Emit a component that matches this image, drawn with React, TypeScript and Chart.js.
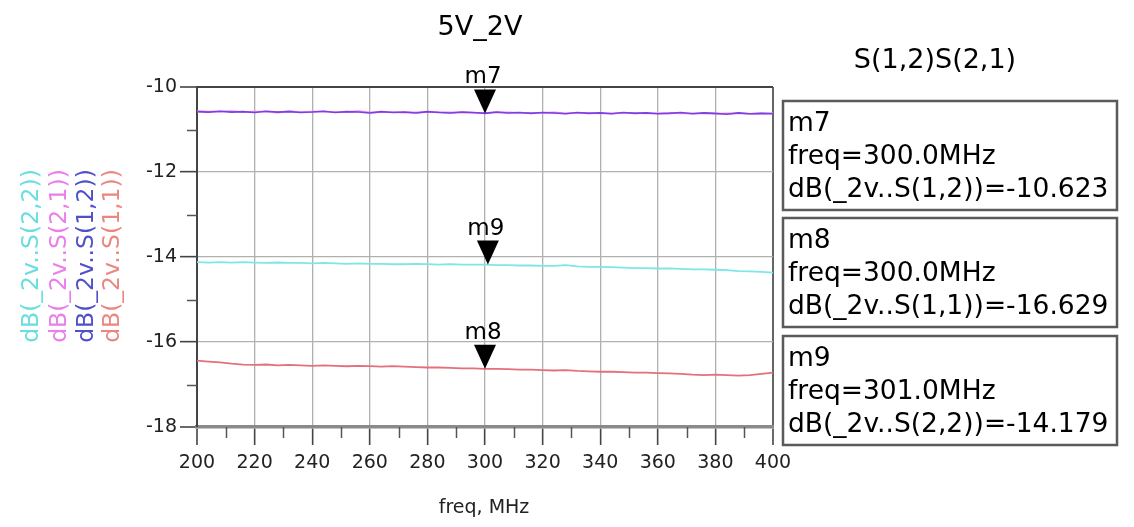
import React, { useEffect, useRef } from "react";
import { Chart, registerables } from "chart.js";
Chart.register(...registerables);

const FONT = "'DejaVu Sans', 'Liberation Sans', sans-serif";

const freqs = [
  200, 204, 208, 212, 216, 220, 224, 228, 232, 236,
  240, 244, 248, 252, 256, 260, 264, 268, 272, 276,
  280, 284, 288, 292, 296, 300, 304, 308, 312, 316,
  320, 324, 328, 332, 336, 340, 344, 348, 352, 356,
  360, 364, 368, 372, 376, 380, 384, 388, 392, 396, 400,
];

const s12 = [
  -10.58, -10.59, -10.57, -10.59, -10.58, -10.6, -10.57, -10.59, -10.58, -10.6,
  -10.59, -10.57, -10.6, -10.58, -10.59, -10.61, -10.58, -10.6, -10.59, -10.61,
  -10.58, -10.6, -10.61, -10.59, -10.6, -10.62, -10.59, -10.61, -10.6, -10.62,
  -10.6, -10.61, -10.63, -10.6, -10.62, -10.61, -10.63, -10.6, -10.62, -10.61,
  -10.63, -10.62, -10.6, -10.63, -10.61, -10.62, -10.64, -10.61, -10.63, -10.62, -10.63,
];

const s21 = [
  -10.57, -10.58, -10.58, -10.57, -10.59, -10.58, -10.58, -10.6, -10.57, -10.59,
  -10.58, -10.58, -10.59, -10.59, -10.57, -10.6, -10.59, -10.59, -10.6, -10.6,
  -10.59, -10.59, -10.6, -10.6, -10.61, -10.61, -10.6, -10.6, -10.61, -10.61,
  -10.61, -10.6, -10.62, -10.61, -10.61, -10.62, -10.62, -10.61, -10.61, -10.62,
  -10.62, -10.61, -10.62, -10.62, -10.62, -10.63, -10.62, -10.62, -10.63, -10.62, -10.62,
];

const s22 = [
  -14.12, -14.13, -14.12, -14.13, -14.12, -14.13, -14.14, -14.13, -14.14, -14.14,
  -14.15, -14.14, -14.15, -14.16, -14.15, -14.16, -14.16, -14.17, -14.17, -14.16,
  -14.17, -14.18, -14.17, -14.18, -14.18, -14.18, -14.19, -14.19, -14.2, -14.2,
  -14.21, -14.21, -14.19, -14.22, -14.23, -14.23, -14.24, -14.25, -14.26, -14.26,
  -14.27, -14.27, -14.28, -14.29, -14.29, -14.3, -14.31, -14.33, -14.34, -14.35, -14.37,
];

const s11 = [
  -16.44, -16.46, -16.48, -16.51, -16.53, -16.54, -16.53, -16.55, -16.54, -16.55,
  -16.56, -16.55, -16.56, -16.57, -16.56, -16.57, -16.58, -16.57, -16.58, -16.59,
  -16.6, -16.6, -16.61, -16.62, -16.62, -16.63, -16.63, -16.64, -16.65, -16.65,
  -16.66, -16.67, -16.66, -16.68, -16.69, -16.7, -16.7, -16.71, -16.72, -16.72,
  -16.73, -16.74, -16.75, -16.77, -16.78, -16.77, -16.78, -16.79, -16.78, -16.75, -16.72,
];

const xTicks = [200, 220, 240, 260, 280, 300, 320, 340, 360, 380, 400];
const yTicks = [-18, -16, -14, -12, -10];

const legendLabels = ["dB(_2v..S(2,2))", "dB(_2v..S(2,1))", "dB(_2v..S(1,2))", "dB(_2v..S(1,1))"];
const legendColors = ["#6adede", "#ea7eea", "#5050c8", "#ea8880"];

const markerNames = ["m7", "m8", "m9"];
const markerFreqs = [300, 300, 301];
const markerValues = [-10.623, -16.629, -14.179];
const markerTraces = ["dB(_2v..S(1,2))", "dB(_2v..S(1,1))", "dB(_2v..S(2,2))"];

const title = "5V_2V";
const sideTitle = "S(1,2)S(2,1)";
const xTitle = "freq, MHz";

function pts(vals: number[]) {
  return freqs.map((f, i) => ({ x: f, y: vals[i] }));
}

function text(
  ctx: CanvasRenderingContext2D,
  s: string,
  x: number,
  y: number,
  size: number,
  color: string,
  align: CanvasTextAlign = "center",
  baseline: CanvasTextBaseline = "middle"
) {
  ctx.font = `${size}px ${FONT}`;
  ctx.fillStyle = color;
  ctx.textAlign = align;
  ctx.textBaseline = baseline;
  ctx.fillText(s, x, y);
}

export default function App() {
  const ref = useRef<HTMLCanvasElement>(null);

  useEffect(() => {
    document.body.style.margin = "0";
    const canvas = ref.current!;
    const decor = {
      id: "decor",
      afterDraw(chart: any) {
        const ctx: CanvasRenderingContext2D = chart.ctx;
        const xs = chart.scales.x;
        const ys = chart.scales.y;
        const area = chart.chartArea;
        ctx.save();
        // minor ticks
        ctx.strokeStyle = "#555";
        ctx.lineWidth = 1.5;
        for (let f = 210; f < 400; f += 20) {
          const px = Math.round(xs.getPixelForValue(f)) + 0.5;
          ctx.beginPath();
          ctx.moveTo(px, area.bottom);
          ctx.lineTo(px, area.bottom + 11);
          ctx.stroke();
        }
        for (let v = -17; v <= -11; v += 2) {
          const py = Math.round(ys.getPixelForValue(v)) + 0.5;
          ctx.beginPath();
          ctx.moveTo(area.left - 10, py);
          ctx.lineTo(area.left, py);
          ctx.stroke();
        }
        // markers
        for (let i = 0; i < markerNames.length; i++) {
          const px = xs.getPixelForValue(markerFreqs[i]);
          const py = ys.getPixelForValue(markerValues[i]);
          ctx.fillStyle = "#000";
          ctx.beginPath();
          ctx.moveTo(px, py);
          ctx.lineTo(px - 11, py - 24);
          ctx.lineTo(px + 11, py - 24);
          ctx.closePath();
          ctx.fill();
          text(ctx, markerNames[i], px - 2, py - 30, 23, "#000", "center", "alphabetic");
        }
        // titles
        text(ctx, title, 480, 28, 27, "#000");
        text(ctx, sideTitle, 935, 61, 27, "#000");
        text(ctx, xTitle, 484, 508, 19, "#222");
        // rotated legend
        const cols = [32, 60, 87, 113];
        for (let i = 0; i < legendLabels.length; i++) {
          ctx.save();
          ctx.translate(cols[i], 256);
          ctx.rotate(-Math.PI / 2);
          text(ctx, legendLabels[i], 0, 0, 23.5, legendColors[i]);
          ctx.restore();
        }
        // marker boxes
        const tops = [101, 218, 336];
        [0, 1, 2].forEach((m, k) => {
          const top = tops[k];
          ctx.strokeStyle = "#5a5a5a";
          ctx.lineWidth = 2.5;
          ctx.strokeRect(783, top, 334, 109);
          const fr = markerFreqs[m].toFixed(1) + "MHz";
          text(ctx, markerNames[m], 788, top + 30, 26.5, "#000", "left", "alphabetic");
          text(ctx, "freq=" + fr, 788, top + 63, 26.5, "#000", "left", "alphabetic");
          text(ctx, markerTraces[m] + "=" + markerValues[m].toFixed(3), 788, top + 96, 26.5, "#000", "left", "alphabetic");
        });
        ctx.restore();
      },
    };

    const chart = new Chart(canvas, {
      type: "line",
      data: {
        datasets: [
          { label: "S12", data: pts(s12), borderColor: "#7b3fe4", borderWidth: 1.6 },
          { label: "S21", data: pts(s21), borderColor: "#f08cf0", borderWidth: 1.8 },
          { label: "S22", data: pts(s22), borderColor: "#7ee6e6", borderWidth: 1.8 },
          { label: "S11", data: pts(s11), borderColor: "#e4707c", borderWidth: 1.8 },
        ],
      },
      options: {
        responsive: false,
        animation: false,
        elements: { point: { radius: 0 }, line: { tension: 0 } },
        layout: { padding: { left: 0, right: 361, top: 87, bottom: 40 } },
        plugins: { legend: { display: false }, title: { display: false }, tooltip: { enabled: false } },
        scales: {
          x: {
            type: "linear",
            min: 200,
            max: 400,
            afterFit: (s: any) => {
              s.height = 60;
            },
            afterBuildTicks: (s: any) => {
              s.ticks = xTicks.map((v) => ({ value: v }));
            },
            ticks: {
              font: { family: FONT, size: 19 },
              color: "#222",
              padding: 7,
              maxRotation: 0,
              autoSkip: false,
            },
            grid: {
              color: (c: any) => (c.tick && (c.tick.value === 200 || c.tick.value === 400) ? "#666" : "#b0b0b0"),
              lineWidth: (c: any) => (c.tick && (c.tick.value === 200 || c.tick.value === 400) ? 2 : 1.3),
              tickColor: "#444",
              tickLength: 18,
              tickWidth: 1.6,
            },
            border: { display: true, color: "#8a8a8a", width: 3.5 },
          },
          y: {
            type: "linear",
            min: -18,
            max: -10,
            afterFit: (s: any) => {
              s.width = 197;
            },
            afterBuildTicks: (s: any) => {
              s.ticks = yTicks.map((v) => ({ value: v }));
            },
            ticks: {
              font: { family: FONT, size: 19 },
              color: "#222",
              padding: 3,
            },
            grid: {
              color: (c: any) => (c.tick && c.tick.value === -10 ? "#444" : "#b0b0b0"),
              lineWidth: (c: any) => (c.tick && c.tick.value === -10 ? 2 : c.tick && c.tick.value === -18 ? 0 : 1.3),
              tickColor: "#444",
              tickLength: 17,
              tickWidth: 1.6,
            },
            border: { display: true, color: "#444", width: 2 },
          },
        },
      },
      plugins: [decor],
    });
    return () => chart.destroy();
  }, []);

  return <canvas ref={ref} width={1134} height={527} style={{ display: "block" }} />;
}
